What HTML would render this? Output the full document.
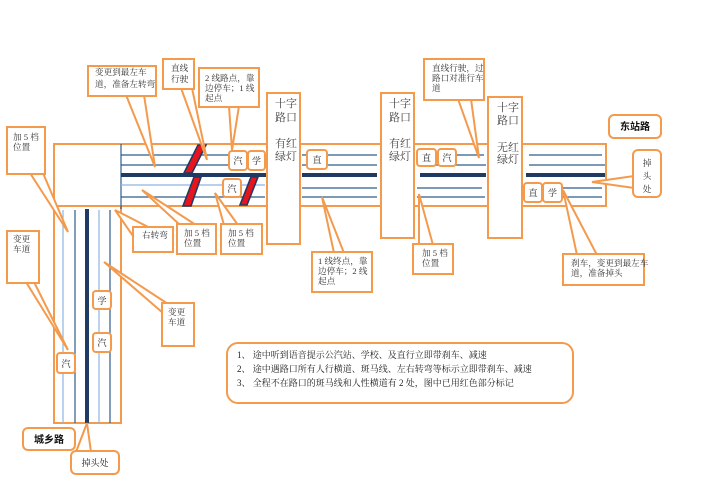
<!DOCTYPE html>
<html><head><meta charset="utf-8"><style>
html,body{margin:0;padding:0;background:#fff;}
svg{display:block;}
text{font-family:"Liberation Serif","Noto Serif CJK SC",serif;fill:#333;}
.s{font-size:8.6px;}
.m{font-size:11px;fill:#444;}
.b{font-family:"Liberation Sans","Noto Sans CJK SC",sans-serif;font-weight:bold;font-size:10px;fill:#111;}
.c{font-size:9px;fill:#222;}
.n{font-size:9px;fill:#222;}
</style></head><body>
<svg width="702" height="496" viewBox="0 0 702 496" xmlns="http://www.w3.org/2000/svg">
<g fill="#fff" stroke="#F39A4C" stroke-width="2">
  <!-- roads -->
  <rect x="54" y="144" width="213" height="62"/>
  <rect x="54" y="206" width="67" height="217"/>
  <rect x="300" y="144" width="81" height="62"/>
  <rect x="414" y="144" width="74" height="62"/>
  <rect x="522" y="144" width="84" height="62"/>
</g>
<!-- seg1 lines -->
<g stroke-width="1.2">
  <line x1="121" y1="144" x2="121" y2="209" stroke="#2E5C8A"/>
  <line x1="121" y1="155" x2="265" y2="155" stroke="#2E5C8A"/>
  <line x1="121" y1="165" x2="265" y2="165" stroke="#2E5C8A"/>
  <line x1="121" y1="185" x2="265" y2="185" stroke="#8DB3E2"/>
  <line x1="121" y1="197" x2="265" y2="197" stroke="#2E5C8A"/>
  <!-- vertical road -->
  <line x1="63" y1="210" x2="63" y2="423" stroke="#8DB3E2"/>
  <line x1="75" y1="210" x2="75" y2="423" stroke="#2E5C8A"/>
  <line x1="99" y1="210" x2="99" y2="423" stroke="#8DB3E2"/>
  <line x1="110" y1="210" x2="110" y2="423" stroke="#2E5C8A"/>
  <!-- seg2 -->
  <line x1="302" y1="155" x2="377" y2="155" stroke="#2E5C8A"/>
  <line x1="302" y1="165" x2="377" y2="165" stroke="#2E5C8A"/>
  <line x1="302" y1="188" x2="377" y2="188" stroke="#2E5C8A"/>
  <line x1="302" y1="197" x2="377" y2="197" stroke="#2E5C8A"/>
  <!-- seg3 -->
  <line x1="456" y1="155" x2="484" y2="155" stroke="#2E5C8A"/>
  <line x1="417" y1="165" x2="486" y2="165" stroke="#2E5C8A"/>
  <line x1="417" y1="188" x2="482" y2="188" stroke="#2E5C8A"/>
  <line x1="417" y1="197" x2="485" y2="197" stroke="#2E5C8A"/>
  <!-- seg4 -->
  <line x1="529" y1="155" x2="602" y2="155" stroke="#2E5C8A"/>
  <line x1="529" y1="165" x2="605" y2="165" stroke="#2E5C8A"/>
  <line x1="562" y1="188" x2="602" y2="188" stroke="#2E5C8A"/>
  <line x1="562" y1="197" x2="602" y2="197" stroke="#2E5C8A"/>
</g>
<g stroke="#1F3B64" stroke-width="4">
  <line x1="121" y1="175" x2="266" y2="175"/>
  <line x1="87" y1="209" x2="87" y2="423"/>
  <line x1="302" y1="175" x2="377" y2="175"/>
  <line x1="420" y1="175" x2="486" y2="175"/>
  <line x1="526" y1="175" x2="605" y2="175"/>
</g>
<!-- zebra stripes -->
<g fill="#E8141C" stroke="#1F3B64" stroke-width="1.6">
  <polygon points="198,145 206,145 192,173 184,173"/>
  <polygon points="194,177 201,177 191,206 183,206"/>
  <polygon points="251,177 258,177 247,205 240,205"/>
</g>
<!-- callout wedges -->
<g fill="#fff" stroke="#F39A4C" stroke-width="2" stroke-linejoin="miter">
  <polygon points="126,95 144,95 155,167"/>
  <polygon points="181,88 192,88 207,160"/>
  <polygon points="229,106 239,106 232,150"/>
  <polygon points="30,173 43,173 68,232"/>
  <polygon points="133,236 150,228 115,210"/>
  <polygon points="180,225 196,225 142,190"/>
  <polygon points="224,225 238,225 215,193"/>
  <polygon points="26,282 34,282 68,350"/>
  <polygon points="163,313 168,304 104,262"/>
  <polygon points="76,452 91,452 87,423"/>
  <polygon points="458,99 471,99 479,158"/>
  <polygon points="334,253 344,253 322,197"/>
  <polygon points="419,245 433,245 419,194"/>
  <polygon points="577,255 597,255 563,190"/>
  <polygon points="634,176 634,188 592,182"/>
</g>
<g fill="#fff" stroke="#F39A4C" stroke-width="2">
  <!-- intersection boxes -->
  <rect x="267" y="93" width="33" height="151"/>
  <rect x="381" y="93" width="33" height="145"/>
  <rect x="488" y="97" width="34" height="141"/>
  <!-- callout boxes -->
  <rect x="88" y="66" width="68" height="30"/>
  <rect x="163" y="59" width="31" height="30"/>
  <rect x="199" y="68" width="60" height="39"/>
  <rect x="7" y="127" width="38" height="47"/>
  <rect x="133" y="227" width="40" height="25"/>
  <rect x="177" y="224" width="39" height="30"/>
  <rect x="221" y="224" width="41" height="30"/>
  <rect x="7" y="231" width="32" height="52"/>
  <rect x="162" y="303" width="32" height="43"/>
  <rect x="424" y="59" width="60" height="41"/>
  <rect x="312" y="252" width="60" height="40"/>
  <rect x="413" y="244" width="40" height="30"/>
  <rect x="563" y="254" width="81" height="31"/>
  <!-- rounded labels -->
  <rect x="609" y="115" width="52" height="23" rx="5"/>
  <rect x="633" y="150" width="28" height="47" rx="5"/>
  <rect x="23" y="428" width="52" height="22" rx="5"/>
  <rect x="71" y="451" width="48" height="23" rx="5"/>
  <rect x="227" y="343" width="346" height="60" rx="11"/>
  <!-- car boxes -->
  <rect x="229" y="151" width="18" height="19" rx="3"/>
  <rect x="248" y="151" width="17" height="19" rx="3"/>
  <rect x="223" y="179" width="18" height="18" rx="3"/>
  <rect x="307" y="150" width="20" height="19" rx="3"/>
  <rect x="417" y="149" width="19" height="17" rx="3"/>
  <rect x="438" y="149" width="18" height="17" rx="3"/>
  <rect x="524" y="183" width="18" height="19" rx="3"/>
  <rect x="543" y="183" width="19" height="19" rx="3"/>
  <rect x="93" y="291" width="18" height="18" rx="3"/>
  <rect x="93" y="333" width="18" height="19" rx="3"/>
  <rect x="57" y="353" width="18" height="20" rx="3"/>
</g>
<!-- intersection texts -->
<text class="m" x="275" y="107">十字</text>
<text class="m" x="275" y="121">路口</text>
<text class="m" x="275" y="147">有红</text>
<text class="m" x="275" y="160">绿灯</text>
<text class="m" x="389" y="107">十字</text>
<text class="m" x="389" y="121">路口</text>
<text class="m" x="389" y="147">有红</text>
<text class="m" x="389" y="160">绿灯</text>
<text class="m" x="497" y="111">十字</text>
<text class="m" x="497" y="124">路口</text>
<text class="m" x="497" y="151">无红</text>
<text class="m" x="497" y="163">绿灯</text>
<!-- callout texts -->
<text class="s" x="95" y="75">变更到最左车</text>
<text class="s" x="95" y="87">道，准备左转弯</text>
<text class="s" x="171" y="71">直线</text>
<text class="s" x="171" y="82">行驶</text>
<text class="s" x="205" y="81">2 线路点，靠</text>
<text class="s" x="205" y="91">边停车；1 线</text>
<text class="s" x="205" y="101">起点</text>
<text class="s" x="13" y="140">加 5 档</text>
<text class="s" x="13" y="150">位置</text>
<text class="s" x="142" y="238">右转弯</text>
<text class="s" x="184" y="236">加 5 档</text>
<text class="s" x="184" y="246">位置</text>
<text class="s" x="228" y="236">加 5 档</text>
<text class="s" x="228" y="246">位置</text>
<text class="s" x="13" y="242">变更</text>
<text class="s" x="13" y="252">车道</text>
<text class="s" x="168" y="315">变更</text>
<text class="s" x="168" y="325">车道</text>
<text class="s" x="432" y="71">直线行驶，过</text>
<text class="s" x="432" y="81">路口对准行车</text>
<text class="s" x="432" y="91">道</text>
<text class="s" x="318" y="264">1 线终点，靠</text>
<text class="s" x="318" y="274">边停车；2 线</text>
<text class="s" x="318" y="284">起点</text>
<text class="s" x="422" y="256">加 5 档</text>
<text class="s" x="422" y="266">位置</text>
<text class="s" x="571" y="266">刹车，变更到最左车</text>
<text class="s" x="571" y="276">道，准备掉头</text>
<!-- labels -->
<text class="b" x="635" y="130" text-anchor="middle">东站路</text>
<text class="s" x="647" y="166" text-anchor="middle">掉</text>
<text class="s" x="647" y="179" text-anchor="middle">头</text>
<text class="s" x="647" y="192" text-anchor="middle">处</text>
<text class="b" x="49" y="443" text-anchor="middle">城乡路</text>
<text class="c" x="95" y="466" text-anchor="middle">掉头处</text>
<!-- car texts -->
<g class="c" text-anchor="middle">
<text class="c" x="238" y="164" text-anchor="middle">汽</text>
<text class="c" x="256.5" y="164" text-anchor="middle">学</text>
<text class="c" x="232" y="192" text-anchor="middle">汽</text>
<text class="c" x="317" y="163" text-anchor="middle">直</text>
<text class="c" x="426.5" y="161" text-anchor="middle">直</text>
<text class="c" x="447" y="161" text-anchor="middle">汽</text>
<text class="c" x="533" y="196" text-anchor="middle">直</text>
<text class="c" x="552.5" y="196" text-anchor="middle">学</text>
<text class="c" x="102" y="304" text-anchor="middle">学</text>
<text class="c" x="102" y="346" text-anchor="middle">汽</text>
<text class="c" x="66" y="367" text-anchor="middle">汽</text>
</g>
<!-- notes -->
<text class="n" x="237" y="358">1、 途中听到语音提示公汽站、学校、及直行立即带刹车、减速</text>
<text class="n" x="237" y="372">2、 途中遇路口所有人行横道、斑马线、左右转弯等标示立即带刹车、减速</text>
<text class="n" x="237" y="386">3、 全程不在路口的斑马线和人性横道有 2 处，图中已用红色部分标记</text>
</svg>
</body></html>
